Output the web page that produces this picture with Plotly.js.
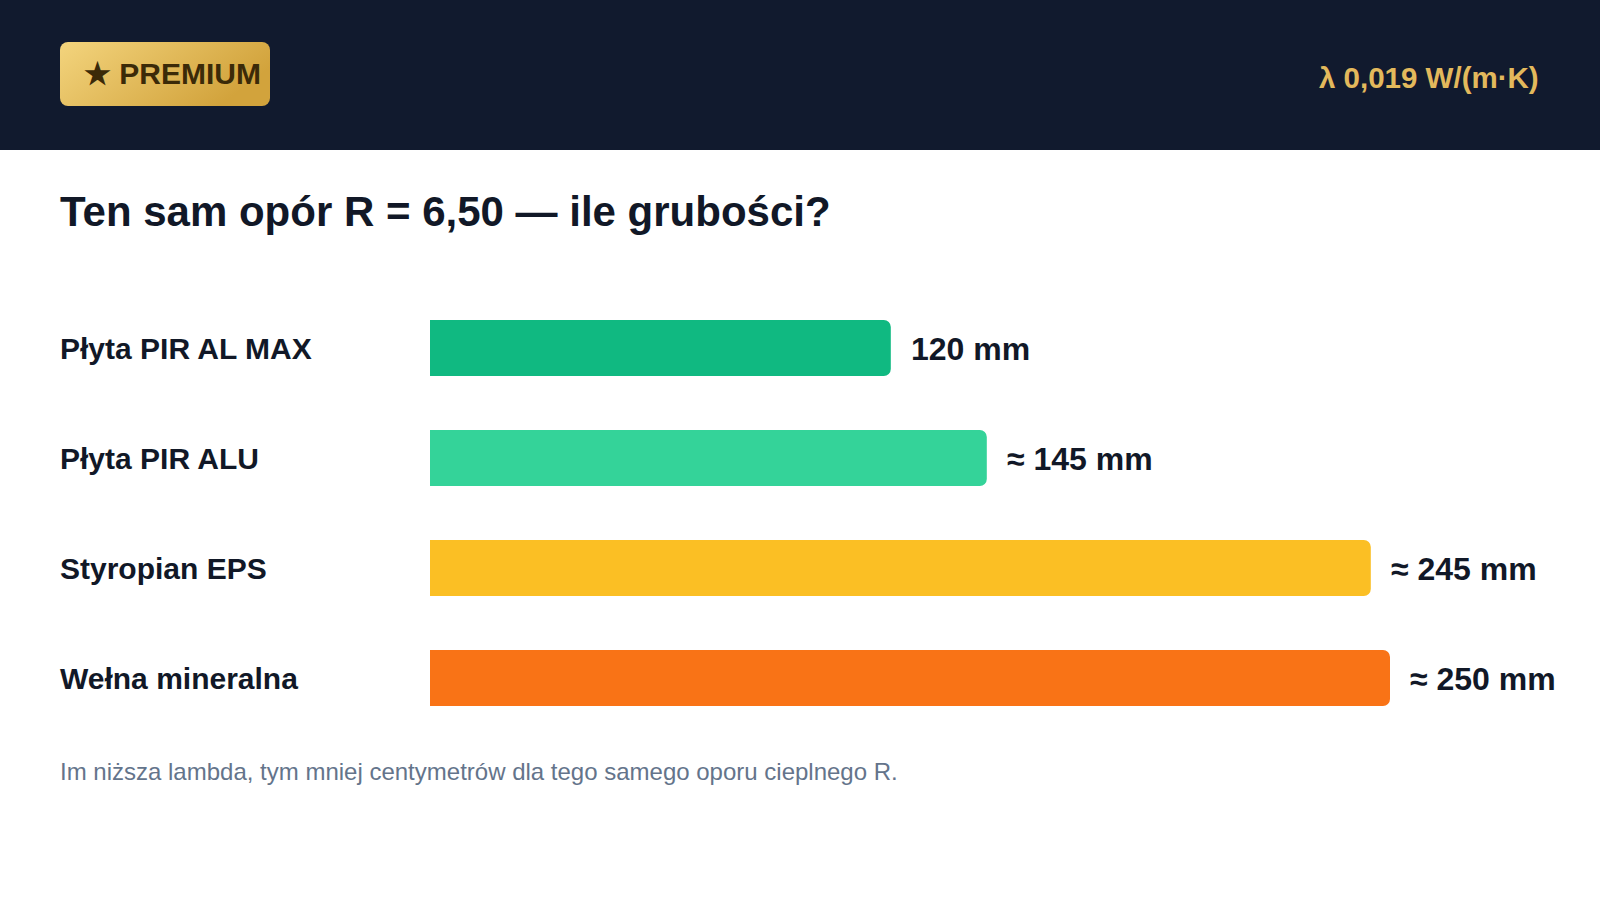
<!DOCTYPE html>
<html>
<head>
<meta charset="utf-8">
<script src="https://cdn.plot.ly/plotly-3.0.1.min.js"></script>
<style>
  html, body { margin: 0; padding: 0; background: #ffffff; }
  #chart { width: 1600px; height: 900px; }
</style>
</head>
<body>
<div id="chart"></div>
<script>
// data
var materials = ['Płyta PIR AL MAX', 'Płyta PIR ALU', 'Styropian EPS', 'Wełna mineralna'];
var thickness = [120, 145, 245, 250];
var valueLabels = ['120 mm', '≈ 145 mm', '≈ 245 mm', '≈ 250 mm'];

var titleText = 'Ten sam opór R = 6,50 — ile grubości?';
var badgeText = '★ PREMIUM';
var lambdaText = 'λ 0,019 W/(m·K)';
var noteText = 'Im niższa lambda, tym mniej centymetrów dla tego samego oporu cieplnego R.';

var barColors = ['#10b981', '#34d399', '#fbbf24', '#f97316'];
var FONT = 'Liberation Sans, Arial, Helvetica, sans-serif';
var INK = '#111827';
var H = 900, W = 1600;

function py(px) { return 1 - px / H; }
function px(x) { return x / W; }

var trace = {
  type: 'bar',
  orientation: 'h',
  x: thickness,
  y: materials,
  width: 0.51,
  marker: { color: barColors, cornerradius: 7, line: { width: 0 } },
  hoverinfo: 'skip'
};

var annotations = [];

// header texts
annotations.push({
  xref: 'paper', yref: 'paper', x: px(82), y: py(73),
  xanchor: 'left', yanchor: 'middle', showarrow: false,
  text: badgeText,
  font: { family: FONT, size: 30, color: '#3b2a08', weight: 'bold' }
});
annotations.push({
  xref: 'paper', yref: 'paper', x: px(1541), y: py(77),
  xanchor: 'right', yanchor: 'middle', showarrow: false,
  text: lambdaText,
  font: { family: FONT, size: 29.5, color: '#e3b95c', weight: 'bold' }
});
// title
annotations.push({
  xref: 'paper', yref: 'paper', x: px(58), y: py(211),
  xanchor: 'left', yanchor: 'middle', showarrow: false,
  text: titleText,
  font: { family: FONT, size: 42, color: INK, weight: 'bold' }
});
// footnote
annotations.push({
  xref: 'paper', yref: 'paper', x: px(58), y: py(771),
  xanchor: 'left', yanchor: 'middle', showarrow: false,
  text: noteText,
  font: { family: FONT, size: 24, color: '#64748b' }
});

materials.forEach(function (m, i) {
  // category label
  annotations.push({
    xref: 'paper', yref: 'y', x: px(58), y: m,
    xanchor: 'left', yanchor: 'middle', showarrow: false,
    text: m,
    font: { family: FONT, size: 30, color: INK, weight: 'bold' }
  });
  // value label
  annotations.push({
    xref: 'x', yref: 'y', x: thickness[i], y: m,
    xanchor: 'left', yanchor: 'middle', showarrow: false, xshift: 18, yshift: -1,
    text: valueLabels[i],
    font: { family: FONT, size: 32, color: INK, weight: 'bold' }
  });
});

var badgeSvg = '<svg xmlns="http://www.w3.org/2000/svg" width="210" height="64" viewBox="0 0 210 64">' +
  '<defs><linearGradient id="g" x1="0" y1="0" x2="1" y2="0.4">' +
  '<stop offset="0" stop-color="#f3d47d"/><stop offset="1" stop-color="#d2a33c"/>' +
  '</linearGradient></defs>' +
  '<rect x="0" y="0" width="210" height="64" rx="8" ry="8" fill="url(#g)"/></svg>';

var layout = {
  width: W, height: H,
  margin: { l: 0, r: 0, t: 0, b: 0 },
  paper_bgcolor: '#ffffff',
  plot_bgcolor: '#ffffff',
  showlegend: false,
  xaxis: {
    domain: [px(430), px(430) + 300 * 3.84 / W],
    range: [0, 300],
    showgrid: false, zeroline: false, showticklabels: false, showline: false, fixedrange: true
  },
  yaxis: {
    domain: [py(733), py(293)],
    type: 'category',
    categoryorder: 'array',
    categoryarray: materials,
    autorange: 'reversed',
    showgrid: false, zeroline: false, showticklabels: false, showline: false, fixedrange: true
  },
  shapes: [{
    type: 'rect', xref: 'paper', yref: 'paper', layer: 'below',
    x0: 0, x1: 1, y0: py(150), y1: 1,
    fillcolor: '#111a2e', line: { width: 0 }
  }],
  images: [{
    source: 'data:image/svg+xml;charset=utf-8,' + encodeURIComponent(badgeSvg),
    xref: 'paper', yref: 'paper',
    x: px(60), y: py(42), sizex: 210 / W, sizey: 64 / H,
    xanchor: 'left', yanchor: 'top', sizing: 'stretch', layer: 'above'
  }],
  annotations: annotations
};

Plotly.newPlot('chart', [trace], layout, { staticPlot: true, displayModeBar: false });
</script>
</body>
</html>
